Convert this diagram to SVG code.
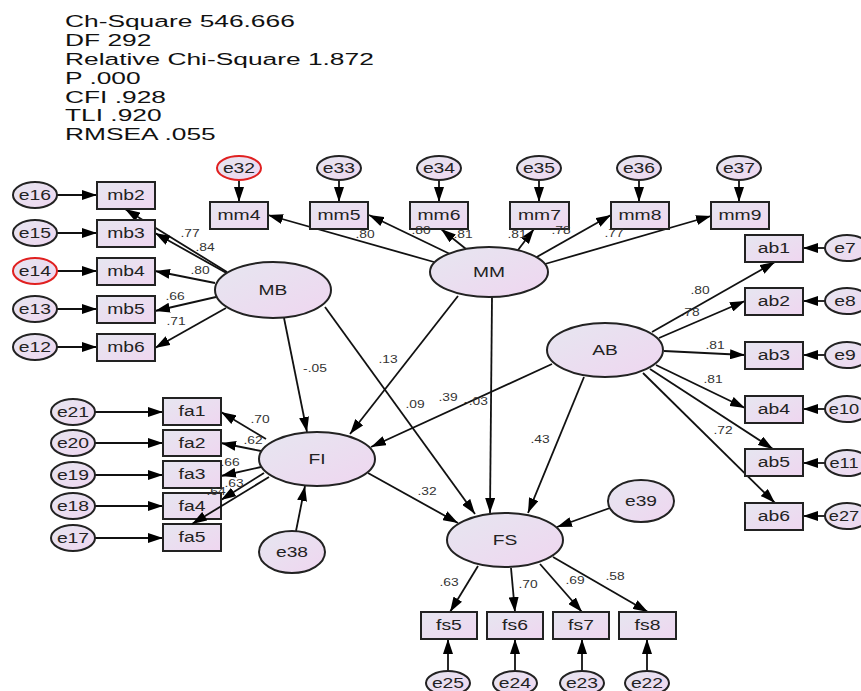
<svg xmlns="http://www.w3.org/2000/svg" width="861" height="691" viewBox="0 0 861 691">
<defs>
<linearGradient id="g" x1="0" y1="0" x2="1" y2="1">
<stop offset="0" stop-color="#e6e6f0"/>
<stop offset="1" stop-color="#efd6f0"/>
</linearGradient>
<marker id="ah" viewBox="0 0 15 10" refX="15" refY="5" markerWidth="15" markerHeight="10" markerUnits="userSpaceOnUse" orient="auto">
<path d="M0,0 L15,5 L0,10 z" fill="#000"/>
</marker>
</defs>
<style>
.n{fill:url(#g);stroke:#222;stroke-width:2}
.r{fill:url(#g);stroke:#e02020;stroke-width:2}
text{font-family:"Liberation Sans",Arial,sans-serif;transform-box:fill-box}
.t{font-size:14px;fill:#222;text-anchor:middle;dominant-baseline:central;transform:scaleX(1.38);transform-origin:center}
.tn{font-size:14px;fill:#222;text-anchor:middle;dominant-baseline:central;transform:scaleX(1.3);transform-origin:center}
.lt{font-size:15px;fill:#222;text-anchor:middle;dominant-baseline:central;transform:scaleX(1.28);transform-origin:center}
.l{font-size:11.5px;fill:#333;text-anchor:middle;dominant-baseline:central;transform:scaleX(1.2);transform-origin:center}
.s{font-size:17px;fill:#111;transform:scaleX(1.55);transform-origin:left center}
.c line{stroke:#111;stroke-width:1.8;marker-end:url(#ah)}
</style>
<rect width="861" height="691" fill="#fff"/>
<g id="stats">
<text class="s" x="65" y="27">Ch-Square 546.666</text>
<text class="s" x="65" y="46">DF 292</text>
<text class="s" x="65" y="65">Relative Chi-Square 1.872</text>
<text class="s" x="65" y="84">P .000</text>
<text class="s" x="65" y="103">CFI .928</text>
<text class="s" x="65" y="121">TLI .920</text>
<text class="s" x="65" y="140">RMSEA .055</text>
</g>
<g id="connectors" class="c">
<line x1="57" y1="195" x2="97" y2="195"/>
<line x1="57" y1="233" x2="97" y2="233"/>
<line x1="57" y1="271" x2="97" y2="271"/>
<line x1="57" y1="309" x2="97" y2="309"/>
<line x1="57" y1="347" x2="97" y2="347"/>
<line x1="227" y1="272" x2="125" y2="209"/>
<line x1="230" y1="275" x2="155" y2="233"/>
<line x1="215" y1="283" x2="155" y2="271"/>
<line x1="216" y1="297" x2="155" y2="311"/>
<line x1="226" y1="308" x2="155" y2="348"/>
<line x1="239" y1="180" x2="239" y2="202"/>
<line x1="339" y1="180" x2="339" y2="202"/>
<line x1="439" y1="180" x2="439" y2="202"/>
<line x1="539" y1="180" x2="539" y2="202"/>
<line x1="639" y1="180" x2="639" y2="202"/>
<line x1="739" y1="180" x2="739" y2="202"/>
<line x1="434" y1="262" x2="268" y2="215"/>
<line x1="450" y1="254" x2="369" y2="215"/>
<line x1="466" y1="249" x2="441" y2="229"/>
<line x1="518" y1="250" x2="534" y2="229"/>
<line x1="535" y1="258" x2="611" y2="215"/>
<line x1="545" y1="264" x2="711" y2="216"/>
<line x1="652" y1="332" x2="775" y2="262"/>
<line x1="659" y1="338" x2="745" y2="301"/>
<line x1="664" y1="351" x2="745" y2="355"/>
<line x1="656" y1="365" x2="745" y2="408"/>
<line x1="650" y1="369" x2="773" y2="449"/>
<line x1="643" y1="373" x2="775" y2="503"/>
<line x1="825" y1="248" x2="803" y2="248"/>
<line x1="825" y1="301" x2="803" y2="301"/>
<line x1="825" y1="355" x2="803" y2="355"/>
<line x1="825" y1="409" x2="803" y2="409"/>
<line x1="825" y1="463" x2="803" y2="463"/>
<line x1="825" y1="516" x2="803" y2="516"/>
<line x1="284" y1="318" x2="307" y2="432"/>
<line x1="325" y1="307" x2="475" y2="514"/>
<line x1="458" y1="296" x2="350" y2="434"/>
<line x1="492" y1="297" x2="490" y2="513"/>
<line x1="552" y1="364" x2="371" y2="447"/>
<line x1="584" y1="377" x2="528" y2="513"/>
<line x1="368" y1="473" x2="458" y2="523"/>
<line x1="610" y1="508" x2="557" y2="527"/>
<line x1="296" y1="531" x2="305" y2="486"/>
<line x1="266" y1="439" x2="221" y2="412"/>
<line x1="261" y1="451" x2="221" y2="443"/>
<line x1="261" y1="467" x2="221" y2="476"/>
<line x1="264" y1="473" x2="221" y2="500"/>
<line x1="95" y1="412" x2="163" y2="412"/>
<line x1="95" y1="443" x2="163" y2="443"/>
<line x1="95" y1="475" x2="163" y2="475"/>
<line x1="95" y1="506" x2="163" y2="506"/>
<line x1="95" y1="538" x2="163" y2="538"/>
<line x1="478" y1="566" x2="450" y2="612"/>
<line x1="511" y1="568" x2="515" y2="612"/>
<line x1="540" y1="564" x2="582" y2="612"/>
<line x1="553" y1="557" x2="648" y2="612"/>
<line x1="448" y1="671" x2="448" y2="639"/>
<line x1="515" y1="671" x2="515" y2="639"/>
<line x1="582" y1="671" x2="582" y2="639"/>
<line x1="647" y1="671" x2="647" y2="639"/>
</g>
<g id="e16"><ellipse class="n" cx="35" cy="195" rx="22" ry="13"/><text class="t" x="35" y="195">e16</text></g>
<g id="e15"><ellipse class="n" cx="35" cy="233" rx="22" ry="13"/><text class="t" x="35" y="233">e15</text></g>
<g id="e14"><ellipse class="r" cx="35" cy="271" rx="22" ry="13"/><text class="t" x="35" y="271">e14</text></g>
<g id="e13"><ellipse class="n" cx="35" cy="309" rx="22" ry="13"/><text class="t" x="35" y="309">e13</text></g>
<g id="e12"><ellipse class="n" cx="35" cy="347" rx="22" ry="13"/><text class="t" x="35" y="347">e12</text></g>
<g id="mb2"><rect class="n" x="97" y="182" width="58" height="27"/><text class="t" x="126" y="195.5">mb2</text></g>
<g id="mb3"><rect class="n" x="97" y="220" width="58" height="27"/><text class="t" x="126" y="233.5">mb3</text></g>
<g id="mb4"><rect class="n" x="97" y="258" width="58" height="27"/><text class="t" x="126" y="271.5">mb4</text></g>
<g id="mb5"><rect class="n" x="97" y="296" width="58" height="27"/><text class="t" x="126" y="309.5">mb5</text></g>
<g id="mb6"><rect class="n" x="97" y="334" width="58" height="27"/><text class="t" x="126" y="347.5">mb6</text></g>
<g id="e32"><ellipse class="r" cx="239" cy="168" rx="22" ry="12"/><text class="t" x="239" y="168">e32</text></g>
<g id="e33"><ellipse class="n" cx="339" cy="168" rx="22" ry="12"/><text class="t" x="339" y="168">e33</text></g>
<g id="e34"><ellipse class="n" cx="439" cy="168" rx="22" ry="12"/><text class="t" x="439" y="168">e34</text></g>
<g id="e35"><ellipse class="n" cx="539" cy="168" rx="22" ry="12"/><text class="t" x="539" y="168">e35</text></g>
<g id="e36"><ellipse class="n" cx="639" cy="168" rx="22" ry="12"/><text class="t" x="639" y="168">e36</text></g>
<g id="e37"><ellipse class="n" cx="739" cy="168" rx="22" ry="12"/><text class="t" x="739" y="168">e37</text></g>
<g id="mm4"><rect class="n" x="210" y="202" width="58" height="27"/><text class="t" x="239" y="215.5">mm4</text></g>
<g id="mm5"><rect class="n" x="310" y="202" width="58" height="27"/><text class="t" x="339" y="215.5">mm5</text></g>
<g id="mm6"><rect class="n" x="410" y="202" width="58" height="27"/><text class="t" x="439" y="215.5">mm6</text></g>
<g id="mm7"><rect class="n" x="510" y="202" width="59" height="27"/><text class="t" x="539.5" y="215.5">mm7</text></g>
<g id="mm8"><rect class="n" x="611" y="202" width="58" height="27"/><text class="t" x="640" y="215.5">mm8</text></g>
<g id="mm9"><rect class="n" x="711" y="202" width="58" height="27"/><text class="t" x="740" y="215.5">mm9</text></g>
<g id="ab1"><rect class="n" x="745" y="235" width="58" height="27"/><text class="t" x="774" y="248.5">ab1</text></g>
<g id="ab2"><rect class="n" x="745" y="288" width="58" height="27"/><text class="t" x="774" y="301.5">ab2</text></g>
<g id="ab3"><rect class="n" x="745" y="342" width="58" height="27"/><text class="t" x="774" y="355.5">ab3</text></g>
<g id="ab4"><rect class="n" x="745" y="396" width="58" height="27"/><text class="t" x="774" y="409.5">ab4</text></g>
<g id="ab5"><rect class="n" x="745" y="449" width="58" height="27"/><text class="t" x="774" y="462.5">ab5</text></g>
<g id="ab6"><rect class="n" x="745" y="503" width="58" height="27"/><text class="t" x="774" y="516.5">ab6</text></g>
<g id="e7"><ellipse class="n" cx="847" cy="248" rx="22" ry="13"/><text class="t" x="845" y="248">e7</text></g>
<g id="e8"><ellipse class="n" cx="847" cy="301" rx="22" ry="13"/><text class="t" x="845" y="301">e8</text></g>
<g id="e9"><ellipse class="n" cx="847" cy="355" rx="22" ry="13"/><text class="t" x="845" y="355">e9</text></g>
<g id="e10"><ellipse class="n" cx="847" cy="409" rx="22" ry="13"/><text class="tn" x="844" y="409">e10</text></g>
<g id="e11"><ellipse class="n" cx="847" cy="463" rx="22" ry="13"/><text class="tn" x="844" y="463">e11</text></g>
<g id="e27"><ellipse class="n" cx="847" cy="516" rx="22" ry="13"/><text class="tn" x="844" y="516">e27</text></g>
<g id="e21"><ellipse class="n" cx="73" cy="412" rx="22" ry="13"/><text class="t" x="73" y="412">e21</text></g>
<g id="e20"><ellipse class="n" cx="73" cy="443" rx="22" ry="13"/><text class="t" x="73" y="443">e20</text></g>
<g id="e19"><ellipse class="n" cx="73" cy="475" rx="22" ry="13"/><text class="t" x="73" y="475">e19</text></g>
<g id="e18"><ellipse class="n" cx="73" cy="506" rx="22" ry="13"/><text class="t" x="73" y="506">e18</text></g>
<g id="e17"><ellipse class="n" cx="73" cy="538" rx="22" ry="13"/><text class="t" x="73" y="538">e17</text></g>
<g id="fa1"><rect class="n" x="163" y="398" width="58" height="27"/><text class="t" x="192" y="411.5">fa1</text></g>
<g id="fa2"><rect class="n" x="163" y="430" width="58" height="26"/><text class="t" x="192" y="443">fa2</text></g>
<g id="fa3"><rect class="n" x="163" y="461" width="58" height="27"/><text class="t" x="192" y="474.5">fa3</text></g>
<g id="fa4"><rect class="n" x="163" y="493" width="58" height="26"/><text class="t" x="192" y="506">fa4</text></g>
<g id="fa5"><rect class="n" x="163" y="524" width="58" height="27"/><text class="t" x="192" y="537.5">fa5</text></g>
<g id="MB"><ellipse class="n" cx="273" cy="290" rx="58" ry="28"/><text class="lt" x="273" y="290">MB</text></g>
<g id="MM"><ellipse class="n" cx="489" cy="272" rx="59" ry="25"/><text class="lt" x="489" y="272">MM</text></g>
<g id="AB"><ellipse class="n" cx="605" cy="350" rx="58" ry="27"/><text class="lt" x="605" y="350">AB</text></g>
<g id="FI"><ellipse class="n" cx="317" cy="459" rx="58" ry="27"/><text class="lt" x="317" y="459">FI</text></g>
<g id="FS"><ellipse class="n" cx="505" cy="540" rx="58" ry="27"/><text class="lt" x="505" y="540">FS</text></g>
<g id="e38"><ellipse class="n" cx="292" cy="552" rx="33" ry="21"/><text class="lt" x="292" y="552">e38</text></g>
<g id="e39"><ellipse class="n" cx="641" cy="501" rx="33" ry="21"/><text class="lt" x="641" y="501">e39</text></g>
<g id="fs5"><rect class="n" x="421" y="612" width="56" height="27"/><text class="t" x="449" y="625.5">fs5</text></g>
<g id="fs6"><rect class="n" x="487" y="612" width="56" height="27"/><text class="t" x="515" y="625.5">fs6</text></g>
<g id="fs7"><rect class="n" x="553" y="612" width="56" height="27"/><text class="t" x="581" y="625.5">fs7</text></g>
<g id="fs8"><rect class="n" x="619" y="612" width="57" height="27"/><text class="t" x="647.5" y="625.5">fs8</text></g>
<g id="e25"><ellipse class="n" cx="448" cy="683" rx="22" ry="12"/><text class="t" x="448" y="683">e25</text></g>
<g id="e24"><ellipse class="n" cx="515" cy="683" rx="22" ry="12"/><text class="t" x="515" y="683">e24</text></g>
<g id="e23"><ellipse class="n" cx="582" cy="683" rx="22" ry="12"/><text class="t" x="582" y="683">e23</text></g>
<g id="e22"><ellipse class="n" cx="647" cy="683" rx="22" ry="12"/><text class="t" x="647" y="683">e22</text></g>
<g id="labels">
<text class="l" x="190" y="233">.77</text>
<text class="l" x="205" y="247">.84</text>
<text class="l" x="200" y="270">.80</text>
<text class="l" x="175" y="296">.66</text>
<text class="l" x="176" y="321">.71</text>
<text class="l" x="365" y="234">.80</text>
<text class="l" x="421" y="230">.80</text>
<text class="l" x="463" y="234">.81</text>
<text class="l" x="517" y="234">.81</text>
<text class="l" x="561" y="230">.78</text>
<text class="l" x="614" y="233">.77</text>
<text class="l" x="700" y="290">.80</text>
<text class="l" x="690" y="312">.78</text>
<text class="l" x="715" y="345">.81</text>
<text class="l" x="713" y="379">.81</text>
<text class="l" x="723" y="430">.72</text>
<text class="l" x="315" y="368">-.05</text>
<text class="l" x="388" y="359">.13</text>
<text class="l" x="415" y="404">.09</text>
<text class="l" x="448" y="397">.39</text>
<text class="l" x="476" y="401">-.03</text>
<text class="l" x="540" y="439">.43</text>
<text class="l" x="427" y="491">.32</text>
<text class="l" x="260" y="419">.70</text>
<text class="l" x="253" y="440">.62</text>
<text class="l" x="230" y="462">.66</text>
<text class="l" x="234" y="483">.63</text>
<text class="l" x="216" y="491">.64</text>
<text class="l" x="449" y="582">.63</text>
<text class="l" x="528" y="584">.70</text>
<text class="l" x="575" y="580">.69</text>
<text class="l" x="615" y="576">.58</text>
</g>
<line x1="269" y1="477" x2="192" y2="524" stroke="#111" stroke-width="1.8" marker-end="url(#ah)"/>
</svg>
